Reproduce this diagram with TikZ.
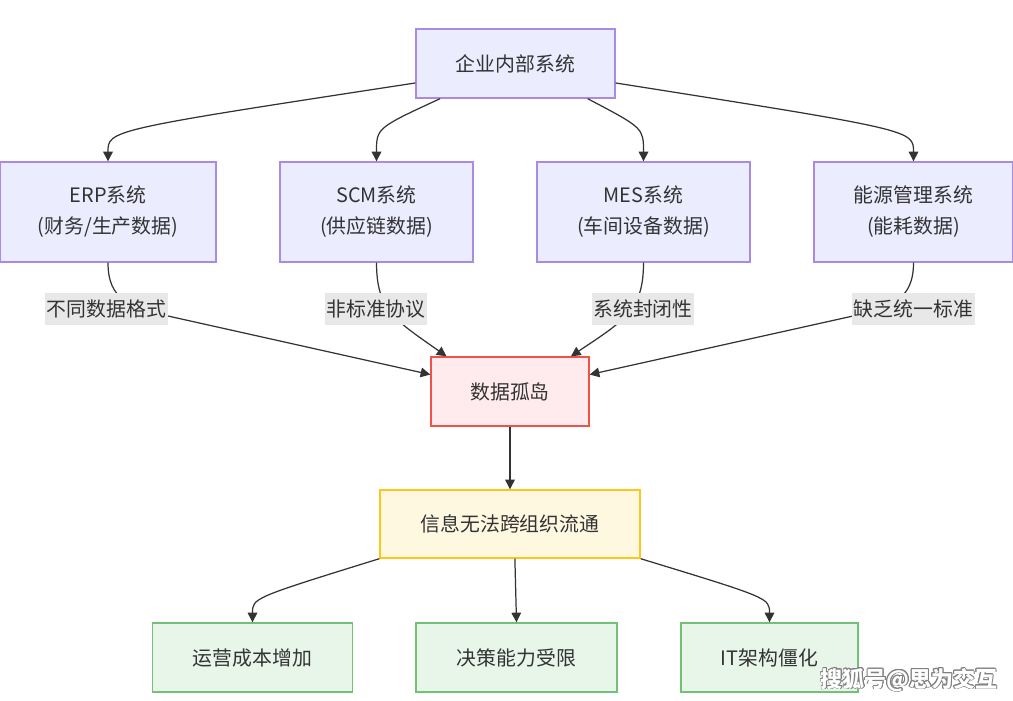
\documentclass[tikz,border=0pt]{standalone}
\usepackage{fontspec}
\setmainfont{Noto Sans CJK SC}
\usepackage[copies]{contour}
\usetikzlibrary{arrows.meta,scopes}
\definecolor{txt}{HTML}{333333}
\definecolor{sysfill}{HTML}{ECECFF}
\definecolor{sysline}{HTML}{A98BE6}
\definecolor{badfill}{HTML}{FFEBEE}
\definecolor{badline}{HTML}{F0524A}
\definecolor{warnfill}{HTML}{FFF8E1}
\definecolor{warnline}{HTML}{FFC61A}
\definecolor{goodfill}{HTML}{E8F5E9}
\definecolor{goodline}{HTML}{72C275}
\definecolor{lblfill}{HTML}{E8E8E8}
\begin{document}
\begin{tikzpicture}[x=0.02cm,y=-0.02cm,
    box/.style={draw,line width=0.8pt,text=txt,align=center,inner sep=0pt,
        font=\fontsize{11.3pt}{17.6pt}\selectfont},
    sys/.style={box,fill=sysfill,draw=sysline,minimum height=2cm},
    bad/.style={box,fill=badfill,draw=badline,minimum height=1.38cm},
    warn/.style={box,fill=warnfill,draw=warnline,minimum height=1.36cm},
    good/.style={box,fill=goodfill,draw=goodline,minimum height=1.38cm},
    link/.style={draw=txt,line width=0.7pt,-{Triangle[length=5.5pt,width=5.5pt]}},
    lbl/.style={fill=lblfill,text=txt,inner xsep=1pt,inner ysep=0pt,minimum height=0.64cm,
        font=\fontsize{11.3pt}{13.5pt}\selectfont}
]
    \useasboundingbox (0,0) rectangle (1013,700);

    % top level
    \node[sys,minimum width=3.98cm,minimum height=1.38cm] (corp) at (515.5,63.5) {企业内部系统};

    % systems
    \node[sys,minimum width=4.32cm] (erp) at (108,212) {ERP系统\\(财务/生产数据)};
    \node[sys,minimum width=3.86cm] (scm) at (376.5,212) {SCM系统\\(供应链数据)};
    \node[sys,minimum width=4.26cm] (mes) at (643.5,212) {MES系统\\(车间设备数据)};
    \node[sys,minimum width=3.98cm] (ems) at (913.5,212) {能源管理系统\\(能耗数据)};

    % problem
    \node[bad,minimum width=3.16cm] (island) at (510,391.5) {数据孤岛};
    \node[warn,minimum width=5.2cm] (info) at (510,524) {信息无法跨组织流通};

    % effects
    \node[good,minimum width=4cm] (cost) at (252.5,657.5) {运营成本增加};
    \node[good,minimum width=4.02cm] (decide) at (516.5,657.5) {决策能力受限};
    \node[good,minimum width=3.54cm] (rigid) at (769.5,657.5) {IT架构僵化};

    {[link]
        \draw (corp.191) .. controls (108,130) .. (erp.north);
        \draw (corp.205) .. controls (376.5,128) .. (scm.north);
        \draw (corp.334) .. controls (643.5,128) .. (mes.north);
        \draw (corp.349) .. controls (913.5,130) .. (ems.north);

        \draw (erp.south) .. controls (108,300) and (130,307) .. (168,316) -- (island.168);
        \draw (scm.south) .. controls (376.5,310) and (395,320) .. (island.151);
        \draw (mes.south) .. controls (643.5,310) and (625,320) .. (island.30);
        \draw (ems.south) .. controls (913.5,300) and (891,307) .. (853,316) -- (island.12);

        \draw (island) -- (info);

        \draw (info.south west) .. controls (252.5,598) .. (cost.north);
        \draw (info.-82) -- (decide.north);
        \draw (info.south east) .. controls (769.5,598) .. (rigid.north);
    }

    % edge labels
    \node[lbl] (why1) at (106.5,309) {不同数据格式};
    \node[lbl] (why2) at (376,309) {非标准协议};
    \node[lbl] (why3) at (643,309) {系统封闭性};
    \node[lbl] (why4) at (913.5,309) {缺乏统一标准};

    \node (mark) at (909,680) {\fontsize{12.5pt}{14pt}\selectfont\bfseries\contour{gray}{\textcolor{white}{搜狐号@思为交互}}};
\end{tikzpicture}
\end{document}
